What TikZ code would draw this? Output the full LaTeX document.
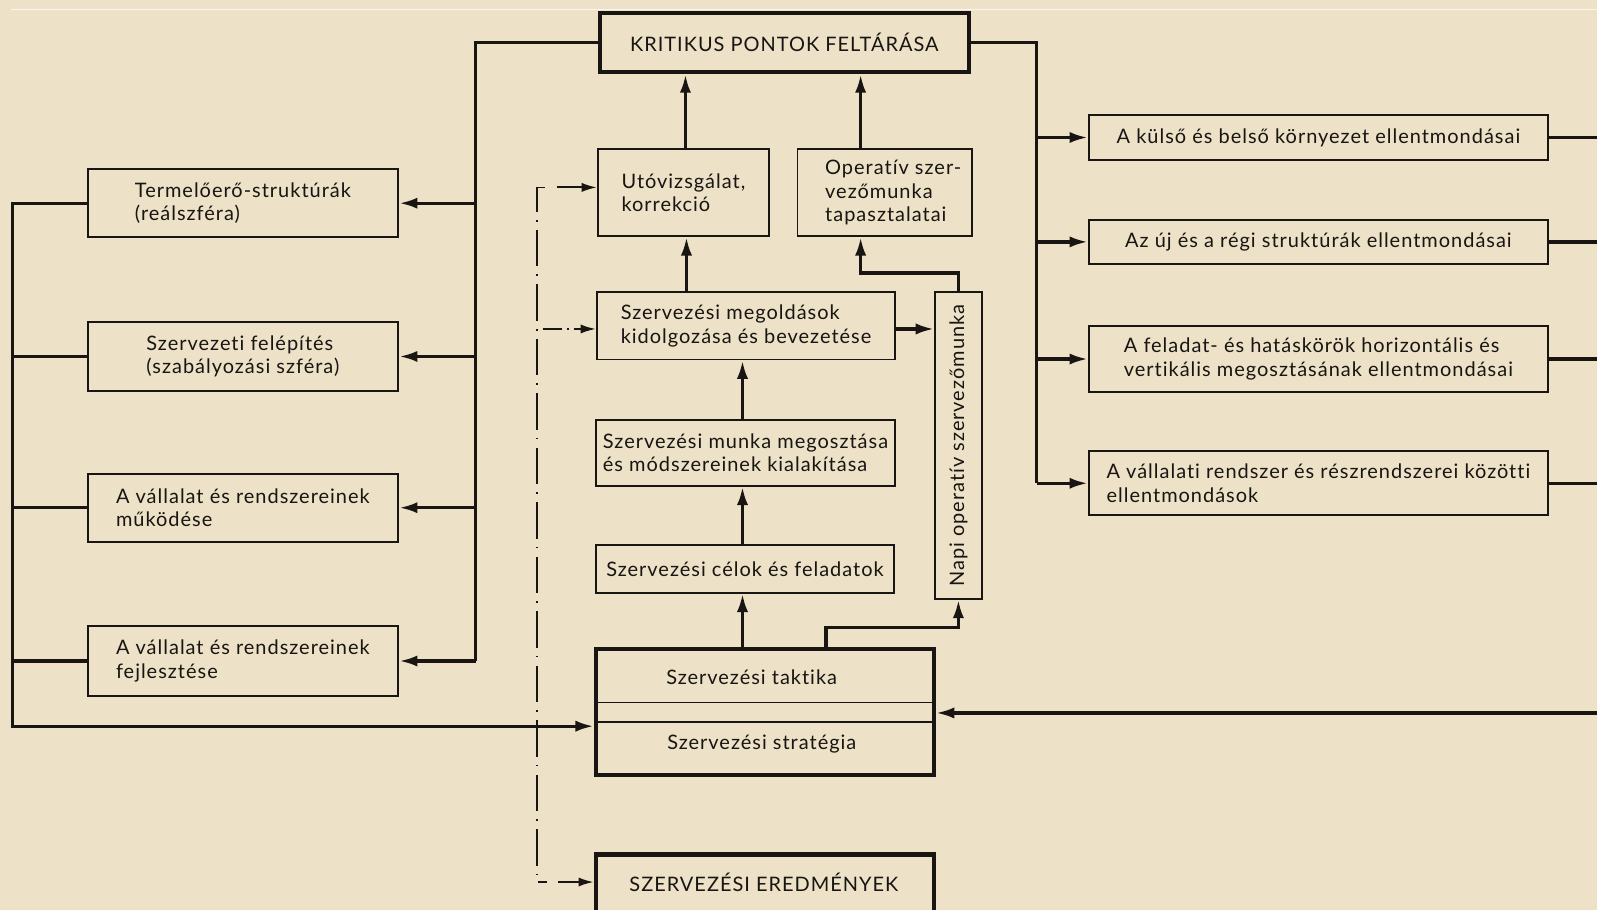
\documentclass[tikz,border=0pt]{standalone}
\usepackage{fontspec}
\setmainfont{Lato}[LetterSpace=5,Ligatures=NoCommon]
\usetikzlibrary{arrows.meta}
\definecolor{paper}{RGB}{237,226,199}
\definecolor{ink}{RGB}{24,21,18}

\begin{document}
\begin{tikzpicture}[x=1pt,y=-1pt,
  every node/.style={font=\fontsize{19.6}{23}\selectfont, text=ink},
  box/.style={draw=ink, line width=1.8pt, rectangle, inner sep=0pt, align=left},
  heavybox/.style={box, line width=4pt},
  link/.style={draw=ink, line width=3.2pt},
  arrow/.style={link, -{Latex[length=18pt,width=11pt]}},
  thinarrow/.style={draw=ink, line width=2pt, -{Latex[length=15pt,width=9pt]}},
  dashline/.style={draw=ink, line width=1.7pt, dash pattern=on 36pt off 8pt on 1.5pt off 8pt},
  txt/.style={inner sep=0pt, align=left}
]
% paper
\fill[paper] (0,0) rectangle (1568,893);
\useasboundingbox (0,0) rectangle (1568,893);
\clip (0,0) rectangle (1568,893);
\draw[white!70!paper, line width=1pt] (11,9.5) -- (1568,9.5);

% central column
\node[heavybox, minimum width=362, minimum height=58, align=center] (krit) at (770,42) {KRITIKUS PONTOK FELTÁRÁSA};
\node[box, minimum width=168, minimum height=86] (uto) at (671,189) {Utóvizsgálat,\\korrekció};
\node[box, minimum width=171, minimum height=86] (oper) at (868.5,189) {};
\node[txt] (opert) at (877,189) {Operatív szer-\\vezőmunka\\tapasztalatai};
\node[box, minimum width=293, minimum height=66] (megold) at (732.5,320) {Szervezési megoldások\\kidolgozása és bevezetése};
\node[box, minimum width=46, minimum height=301] (napi) at (941,437.5) {};
\node[txt, rotate=90] (napit) at (napi.center) {Napi operatív szervezőmunka};
\node[box, minimum width=294, minimum height=65] (munka) at (732,444.5) {Szervezési munka megosztása\\és módszereinek kialakítása};
\node[box, minimum width=293, minimum height=47] (celok) at (731.5,558.5) {Szervezési célok és feladatok};
\node[heavybox, minimum width=332, minimum height=124] (strat) at (751,699) {};
\node[txt] (takt) at (738,665) {Szervezési taktika};
\node[txt] (strt) at (748,731) {Szervezési stratégia};
\draw[draw=ink, line width=1.4pt] ([yshift=-10]strat.west) -- ([yshift=-10]strat.east);
\draw[draw=ink, line width=1.4pt] ([yshift=9]strat.west) -- ([yshift=9]strat.east);
\node[heavybox, minimum width=332, minimum height=71] (ered) at (751,874.5) {};
\node[txt] (eredt) at (750,866) {SZERVEZÉSI EREDMÉNYEK};

% left column
\node[box, minimum width=305, minimum height=67] (L1) at (238.5,199.5) {Termelőerő-struktúrák\\(reálszféra)};
\node[box, minimum width=305, minimum height=68] (L2) at (238.5,350) {Szervezeti felépítés\\(szabályozási szféra)};
\node[box, minimum width=305, minimum height=67] (L3) at (238.5,498.5) {A vállalat és rendszereinek\\működése};
\node[box, minimum width=305, minimum height=68] (L4) at (238.5,649) {A vállalat és rendszereinek\\fejlesztése};

% right column
\node[box, minimum width=451, minimum height=44, align=center] (R1) at (1294.5,135) {A külső és belső környezet ellentmondásai};
\node[box, minimum width=451, minimum height=43, align=center] (R2) at (1294.5,237.5) {Az új és a régi struktúrák ellentmondásai};
\node[box, minimum width=451, minimum height=65] (R3) at (1294.5,352.5) {A feladat- és hatáskörök horizontális és\\vertikális megosztásának ellentmondásai};
\node[box, minimum width=451, minimum height=63] (R4) at (1294.5,474.5) {A vállalati rendszer és részrendszerei közötti\\ellentmondások};

% junction points
\coordinate (jl) at (467,42);
\coordinate (jr) at (1018,42);
\coordinate (ol) at (12,713);
\coordinate (edge) at (1575,0);
\coordinate (er) at (1575,700);
\coordinate (ox) at (845,0);
\coordinate (ny) at (0,268);
\coordinate (sx) at (811,616);

% feedback to the left
\draw[link] (krit.west) -- (jl) -- (jl |- L4.east);
\foreach \b in {L1,L2,L3,L4} \draw[arrow] (jl |- \b.east) -- (\b.east);
\draw[arrow] (L1.west) -- (L1.west -| ol) -- (ol) -- (strat.west |- ol);
\foreach \b in {L2,L3,L4} \draw[link] (\b.west) -- (\b.west -| ol);

% contradictions on the right
\draw[link] (krit.east) -- (jr) -- (jr |- R4.west);
\foreach \b in {R1,R2,R3,R4} {
  \draw[arrow] (jr |- \b.west) -- (\b.west);
  \draw[link] (\b.east) -- (\b.east -| edge);
}
\draw[arrow] (er) -- (strat.east |- er);

% vertical flow in the centre
\draw[arrow] (uto.north -| 673,0) -- (krit.south -| 673,0);
\draw[arrow] (oper.north -| ox) -- (krit.south -| ox);
\draw[arrow] (megold.north -| 674,0) -- (uto.south -| 674,0);
\draw[arrow] (munka.north -| 729,0) -- (megold.south -| 729,0);
\draw[arrow] (celok.north -| 729,0) -- (munka.south -| 729,0);
\draw[arrow] (strat.north -| 729,0) -- (celok.south -| 729,0);
\draw[arrow] (strat.north -| sx) -- (sx) -- (sx -| napi.south) -- (napi.south);
\draw[arrow] (megold.east |- 0,323) -- (napi.west |- 0,323);
\draw[arrow] (napi.north) -- (napi.north |- ny) -- (ox |- ny) -- (ox |- oper.south);

% dash-dotted control loop
\coordinate (dt) at (527,184);
\coordinate (db) at (527,866);
\draw[dashline, dash phase=4pt] (dt -| 535,0) -- (dt) -- (db) -- (db -| 537,0);
\draw[thinarrow] (547,184) -- (uto.west |- 0,184);
\draw[thinarrow, dash pattern=on 19pt off 5pt on 1.5pt off 5pt] (533,323) -- (megold.west |- 0,323);
\draw[thinarrow] (548,866) -- (ered.west |- 0,866);
\end{tikzpicture}
\end{document}
